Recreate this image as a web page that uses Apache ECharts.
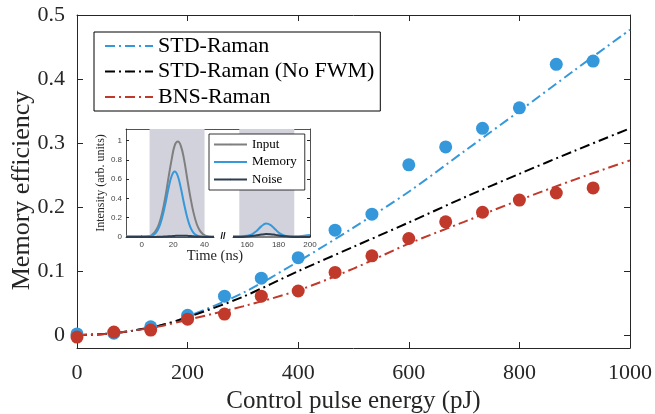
<!DOCTYPE html>
<html>
<head>
<meta charset="utf-8">
<script src="https://cdn.jsdelivr.net/npm/echarts@6/dist/echarts.min.js"></script>
<style>
  html, body { margin: 0; padding: 0; background: #fff; }
  #chart { width: 655px; height: 414px; }
</style>
</head>
<body>
<div id="chart"></div>
<script>
// measured points (pJ -> efficiency)
const energy = [0, 66.7, 133.3, 200, 266.7, 333.3, 400, 466.7, 533.3, 600, 666.7, 733.3, 800, 866.7, 933.3]
const stdRamanData = [0.002, 0.003, 0.013, 0.031, 0.061, 0.089, 0.121, 0.164, 0.189, 0.266, 0.294, 0.323, 0.355, 0.423, 0.428]
const bnsRamanData = [-0.003, 0.005, 0.008, 0.025, 0.033, 0.061, 0.069, 0.098, 0.124, 0.151, 0.177, 0.192, 0.211, 0.222, 0.230]

// model curves
const curveEnergy = [0, 50, 100, 150, 200, 300, 400, 500, 600, 700, 800, 900, 1000]
const stdRamanFit = [0, 0.002, 0.007, 0.015, 0.029, 0.066, 0.115, 0.168, 0.224, 0.287, 0.350, 0.414, 0.477]
const noFwmFit = [0, 0.002, 0.007, 0.015, 0.028, 0.060, 0.100, 0.138, 0.176, 0.215, 0.252, 0.288, 0.323]
const bnsRamanFit = [0, 0.002, 0.007, 0.014, 0.024, 0.045, 0.070, 0.104, 0.143, 0.177, 0.211, 0.243, 0.273]

const xTicks = [0, 200, 400, 600, 800, 1000]
const yTicks = [0, 0.1, 0.2, 0.3, 0.4, 0.5]

// inset: time traces (ns -> arb. units), broken time axis
const timeLeft = [-10, -5, 0, 5, 7, 9, 11, 13, 15, 17, 19, 21, 23, 25, 27, 29, 31, 33, 35, 37, 39, 41, 43, 46]
const inputLeft = [0, 0, 0, 0.005, 0.028, 0.066, 0.135, 0.25, 0.41, 0.61, 0.80, 0.95, 0.99, 0.94, 0.80, 0.60, 0.41, 0.25, 0.135, 0.066, 0.028, 0.01, 0.003, 0]
const memoryLeft = [0.008, 0.008, 0.008, 0.01, 0.018, 0.043, 0.10, 0.20, 0.34, 0.50, 0.63, 0.68, 0.63, 0.50, 0.34, 0.20, 0.10, 0.043, 0.016, 0.006, 0.004, 0.004, 0.004, 0.004]
const noiseLeft = [0, 0, 0, 0, 0, 0.001, 0.002, 0.003, 0.005, 0.007, 0.009, 0.011, 0.013, 0.014, 0.014, 0.012, 0.01, 0.007, 0.004, 0.002, 0.001, 0, 0, 0]

const timeRight = [151, 155, 160, 163, 166, 169, 172, 175, 178, 181, 184, 187, 190, 195, 200]
const inputRight = [0, 0, 0, 0, 0, 0, 0, 0, 0, 0, 0, 0, 0, 0, 0]
const memoryRight = [0.008, 0.008, 0.012, 0.027, 0.062, 0.11, 0.14, 0.124, 0.077, 0.035, 0.014, 0.008, 0.008, 0.01, 0.02]
const noiseRight = [0, 0, 0.005, 0.01, 0.017, 0.025, 0.03, 0.029, 0.022, 0.014, 0.008, 0.003, 0.001, 0, 0]

const shadeLeft = [5, 40]
const shadeRight = [155, 190]
const insetYTicks = [0, 0.2, 0.4, 0.6, 0.8, 1]
const insetLeftTicks = [0, 20, 40]
const insetRightTicks = [160, 180, 200]

const BLUE = '#3498db'
const RED = '#c0392b'
const AXIS = '#262626'
const SERIF = 'Liberation Serif'

function pairs(xs, ys) {
  return xs.map((x, i) => [x, ys[i]])
}

const chart = echarts.init(document.getElementById('chart'), null, { renderer: 'canvas' })

const mainAxisLine = { show: true, onZero: false, lineStyle: { color: AXIS, width: 1 } }
const insetAxisLine = { show: true, onZero: false, lineStyle: { color: AXIS, width: 0.8 } }
const plain = v => String(v)

const option = {
  backgroundColor: '#fff',
  animation: false,
  textStyle: { fontFamily: SERIF },
  grid: [
    { left: 77, top: 15, width: 553, height: 333, outerBoundsMode: 'none', containLabel: false },
    { left: 126, top: 129, width: 88, height: 108, outerBoundsMode: 'none', containLabel: false },
    { left: 233, top: 129, width: 77, height: 108, outerBoundsMode: 'none', containLabel: false },
    { left: 126, top: 129, width: 184, height: 108, outerBoundsMode: 'none', containLabel: false }
  ],
  xAxis: [
    {
      gridIndex: 0, type: 'value', min: 0, max: 1000,
      axisLine: mainAxisLine,
      axisTick: { inside: true, length: 6, customValues: xTicks, lineStyle: { color: AXIS } },
      axisLabel: { customValues: xTicks, formatter: plain, fontSize: 22, color: AXIS, margin: 14 },
      splitLine: { show: false },
      name: 'Control pulse energy (pJ)', nameLocation: 'middle', nameGap: 35,
      nameTextStyle: { fontSize: 25, color: AXIS }
    },
    {
      gridIndex: 0, type: 'value', position: 'top', min: 0, max: 1000,
      axisLine: mainAxisLine,
      axisTick: { inside: true, length: 6, customValues: xTicks, lineStyle: { color: AXIS } },
      axisLabel: { show: false },
      splitLine: { show: false }
    },
    {
      gridIndex: 1, type: 'value', min: -10, max: 46,
      axisLine: insetAxisLine,
      axisTick: { inside: true, length: 2, customValues: insetLeftTicks, lineStyle: { color: AXIS } },
      axisLabel: { customValues: insetLeftTicks, fontSize: 8, color: '#444', margin: 4, fontFamily: 'Liberation Sans' },
      splitLine: { show: false }
    },
    {
      gridIndex: 2, type: 'value', min: 151, max: 200,
      axisLine: insetAxisLine,
      axisTick: { inside: true, length: 2, customValues: insetRightTicks, lineStyle: { color: AXIS } },
      axisLabel: { customValues: insetRightTicks, fontSize: 8, color: '#444', margin: 4, fontFamily: 'Liberation Sans' },
      splitLine: { show: false }
    },
    {
      gridIndex: 3, type: 'value', position: 'top', min: 0, max: 1,
      axisLine: insetAxisLine,
      axisTick: { show: false }, axisLabel: { show: false }, splitLine: { show: false }
    }
  ],
  yAxis: [
    {
      gridIndex: 0, type: 'value', min: -0.02, max: 0.5,
      axisLine: mainAxisLine,
      axisTick: { inside: true, length: 6, customValues: yTicks, lineStyle: { color: AXIS } },
      axisLabel: { customValues: yTicks, formatter: plain, fontSize: 22, color: AXIS, margin: 12 },
      splitLine: { show: false },
      name: 'Memory efficiency', nameLocation: 'middle', nameGap: 42, nameMoveOverlap: false,
      // nudge the title a little downward along the axis
      nameTextStyle: { fontSize: 26, color: AXIS, padding: [0, 18, 0, 0] }
    },
    {
      gridIndex: 0, type: 'value', position: 'right', min: -0.02, max: 0.5,
      axisLine: mainAxisLine,
      axisTick: { inside: true, length: 6, customValues: yTicks, lineStyle: { color: AXIS } },
      axisLabel: { show: false },
      splitLine: { show: false }
    },
    {
      gridIndex: 1, type: 'value', min: 0, max: 1.12,
      axisLine: insetAxisLine,
      axisTick: { inside: true, length: 3, customValues: insetYTicks, lineStyle: { color: AXIS } },
      axisLabel: { customValues: insetYTicks, fontSize: 8, color: '#444', margin: 4, fontFamily: 'Liberation Sans' },
      splitLine: { show: false },
      name: 'Intensity (arb. units)', nameLocation: 'middle', nameGap: 15,
      nameTextStyle: { fontSize: 12, color: AXIS }
    },
    {
      gridIndex: 2, type: 'value', position: 'right', min: 0, max: 1.12,
      axisLine: insetAxisLine,
      axisTick: { inside: true, length: 3, customValues: insetYTicks, lineStyle: { color: AXIS } },
      axisLabel: { show: false },
      splitLine: { show: false }
    },
    { gridIndex: 3, type: 'value', show: false, min: 0, max: 1 }
  ],
  legend: [
    {
      data: ['STD-Raman', 'STD-Raman (No FWM)', 'BNS-Raman'],
      orient: 'vertical', left: 94, top: 32,
      itemWidth: 48, itemHeight: 2, itemGap: 3.5,
      padding: [3, 6, 3, 10],
      borderColor: '#000', borderWidth: 1, borderRadius: 0, backgroundColor: '#fff',
      textStyle: { fontSize: 22, color: '#000', fontFamily: SERIF }
    },
    {
      data: ['Input', 'Memory', 'Noise'],
      orient: 'vertical', left: 209, top: 134,
      itemWidth: 33, itemHeight: 2, itemGap: 4.5,
      padding: [4, 8, 4, 4],
      borderColor: '#000', borderWidth: 0.8, borderRadius: 0, backgroundColor: '#fff',
      textStyle: { fontSize: 13, color: '#000', fontFamily: SERIF }
    }
  ],
  graphic: [
    {
      type: 'text', x: 215, y: 256, z: 100,
      style: { text: 'Time (ns)', fontSize: 14.5, fontFamily: SERIF, fill: AXIS, align: 'center', verticalAlign: 'middle' }
    },
    {
      type: 'text', x: 223, y: 237, z: 100,
      style: { text: '//', fontSize: 9, fontWeight: 'bold', fontFamily: 'Liberation Sans', fill: '#000', align: 'center', verticalAlign: 'middle' }
    }
  ],
  series: [
    {
      name: 'STD-Raman', type: 'line', xAxisIndex: 0, yAxisIndex: 0,
      data: pairs(curveEnergy, stdRamanFit), symbol: 'none', smooth: 0.3, z: 3,
      lineStyle: { color: BLUE, width: 2, type: [10, 4, 2, 4] }, itemStyle: { color: BLUE }
    },
    {
      name: 'STD-Raman (No FWM)', type: 'line', xAxisIndex: 0, yAxisIndex: 0,
      data: pairs(curveEnergy, noFwmFit), symbol: 'none', smooth: 0.3, z: 3,
      lineStyle: { color: '#000', width: 2, type: [10, 4, 2, 4] }, itemStyle: { color: '#000' }
    },
    {
      name: 'BNS-Raman', type: 'line', xAxisIndex: 0, yAxisIndex: 0,
      data: pairs(curveEnergy, bnsRamanFit), symbol: 'none', smooth: 0.3, z: 3,
      lineStyle: { color: RED, width: 2, type: [10, 4, 2, 4] }, itemStyle: { color: RED }
    },
    {
      name: 'STD-Raman data', type: 'scatter', xAxisIndex: 0, yAxisIndex: 0,
      data: pairs(energy, stdRamanData), symbolSize: 13, z: 4, clip: false,
      itemStyle: { color: BLUE, opacity: 1 }
    },
    {
      name: 'BNS-Raman data', type: 'scatter', xAxisIndex: 0, yAxisIndex: 0,
      data: pairs(energy, bnsRamanData), symbolSize: 13, z: 5, clip: false,
      itemStyle: { color: RED, opacity: 1 }
    },
    // shaded windows of the inset
    {
      name: 'window-left', type: 'line', xAxisIndex: 2, yAxisIndex: 2, data: [], z: 1,
      markArea: { silent: true, itemStyle: { color: '#d2d2dd' }, data: [[{ xAxis: shadeLeft[0] }, { xAxis: shadeLeft[1] }]] }
    },
    {
      name: 'window-right', type: 'line', xAxisIndex: 3, yAxisIndex: 3, data: [], z: 1,
      markArea: { silent: true, itemStyle: { color: '#d2d2dd' }, data: [[{ xAxis: shadeRight[0] }, { xAxis: shadeRight[1] }]] }
    },
    {
      name: 'Input', type: 'line', xAxisIndex: 2, yAxisIndex: 2, data: pairs(timeLeft, inputLeft),
      symbol: 'none', smooth: 0.4, z: 3, lineStyle: { color: '#7f7f7f', width: 2 }, itemStyle: { color: '#7f7f7f' }
    },
    {
      name: 'Input', type: 'line', xAxisIndex: 3, yAxisIndex: 3, data: pairs(timeRight, inputRight),
      symbol: 'none', smooth: 0.4, z: 3, lineStyle: { color: '#7f7f7f', width: 2 }, itemStyle: { color: '#7f7f7f' }
    },
    {
      name: 'Memory', type: 'line', xAxisIndex: 2, yAxisIndex: 2, data: pairs(timeLeft, memoryLeft),
      symbol: 'none', smooth: 0.4, z: 4, lineStyle: { color: BLUE, width: 2 }, itemStyle: { color: BLUE }
    },
    {
      name: 'Memory', type: 'line', xAxisIndex: 3, yAxisIndex: 3, data: pairs(timeRight, memoryRight),
      symbol: 'none', smooth: 0.4, z: 4, lineStyle: { color: BLUE, width: 2 }, itemStyle: { color: BLUE }
    },
    {
      name: 'Noise', type: 'line', xAxisIndex: 2, yAxisIndex: 2, data: pairs(timeLeft, noiseLeft),
      symbol: 'none', smooth: 0.4, z: 5, lineStyle: { color: '#2c3e50', width: 2 }, itemStyle: { color: '#2c3e50' }
    },
    {
      name: 'Noise', type: 'line', xAxisIndex: 3, yAxisIndex: 3, data: pairs(timeRight, noiseRight),
      symbol: 'none', smooth: 0.4, z: 5, lineStyle: { color: '#2c3e50', width: 2 }, itemStyle: { color: '#2c3e50' }
    }
  ]
}

chart.setOption(option)
</script>
</body>
</html>
